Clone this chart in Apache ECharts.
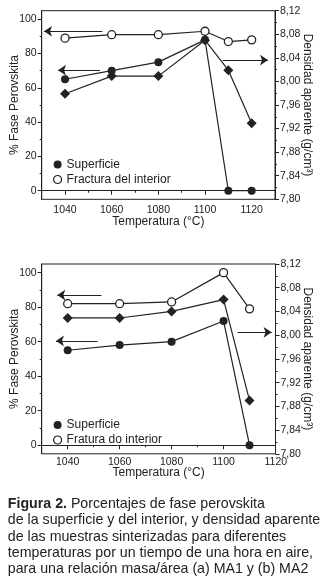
<!DOCTYPE html>
<html>
<head>
<meta charset="utf-8">
<script src="https://cdn.jsdelivr.net/npm/echarts@6/dist/echarts.min.js"></script>
<style>
  html, body { margin: 0; padding: 0; background: #fff; }
  #main { width: 328px; height: 584px; }
</style>
</head>
<body>
<div id="main"></div>
<script>
// (a) MA1
const tempA = [1040, 1060, 1080, 1100, 1110, 1120];
const superficieA = [65, 70, 75, 88, 0, 0];
const interiorA = [89, 91, 91, 93, 87, 88];
const densidadA = [7.979, 8.009, 8.009, 8.070, 8.019, 7.929];

// (b) MA2
const tempB = [1040, 1060, 1080, 1100, 1110];
const superficieB = [55, 58, 60, 72, 0];
const interiorB = [82, 82, 83, 100, 79];
const densidadB = [8.029, 8.029, 8.040, 8.060, 7.890];

// ejes
const pctTicks = [0, 20, 40, 60, 80, 100];
const pctMinor = [10, 30, 50, 70, 90];
const tempTicks = [1040, 1060, 1080, 1100, 1120];
const tempMinor = [1050, 1070, 1090, 1110];

// flechas [x1, y1, x2, y2] en unidades de los datos (eje %)
const arrowsA = [[1056, 93, 1031, 93], [1055, 70.3, 1037, 70.3], [1107.6, 76.2, 1127, 76.2]];
const arrowsB = [[1053, 87, 1036, 87], [1051.5, 60.4, 1035.5, 60.4], [1105.4, 65.4, 1118.5, 65.4]];

const caption = [
    '{b|Figura 2.} Porcentajes de fase perovskita',
    'de la superficie y del interior, y densidad aparente',
    'de las muestras sinterizadas para diferentes',
    'temperaturas por un tiempo de una hora en aire,',
    'para una relación masa/área (a) MA1 y (b) MA2'
];

const ink = '#222';
const font = 'Liberation Sans, Arial, sans-serif';

// cajas de los dos gráficos
const gridA = { left: 41.7, top: 10.7, width: 233.3, height: 188.6 };
const gridB = { left: 41.7, top: 264, width: 233.8, height: 189.8 };

const chart = echarts.init(document.getElementById('main'));

function pairs(xs, ys) {
    return xs.map((x, i) => [x, ys[i]]);
}

function tempAxis(grid, max, labels, labelMargin, nameGap) {
    return [{
        gridIndex: grid, type: 'value', position: 'bottom', min: 1030, max: max,
        name: 'Temperatura (°C)', nameLocation: 'middle', nameGap: nameGap, nameMoveOverlap: false,
        nameTextStyle: { color: ink, fontSize: 12, fontFamily: font },
        axisLine: { show: true, lineStyle: { color: ink, width: 1 } },
        axisTick: { show: true, customValues: tempTicks, length: 4, lineStyle: { color: ink } },
        axisLabel: {
            customValues: labels, margin: labelMargin, color: ink, fontSize: 10.5, fontFamily: font,
            formatter: v => String(Math.round(v))
        },
        splitLine: { show: false }
    }, {
        gridIndex: grid, type: 'value', position: 'bottom', min: 1030, max: max,
        axisLine: { show: false },
        axisTick: { show: true, customValues: tempMinor, length: 2, lineStyle: { color: ink } },
        axisLabel: { show: false },
        splitLine: { show: false }
    }];
}

function pctAxis(grid) {
    return [{
        gridIndex: grid, type: 'value', position: 'left', min: -5, max: 105,
        name: '% Fase Perovskita', nameLocation: 'middle', nameGap: 21, nameMoveOverlap: false,
        nameTextStyle: { color: ink, fontSize: 12, fontFamily: font },
        axisLine: { show: true, lineStyle: { color: ink, width: 1 } },
        axisTick: { show: true, customValues: pctTicks, length: 4, lineStyle: { color: ink } },
        axisLabel: { customValues: pctTicks, margin: 5, color: ink, fontSize: 10.5, fontFamily: font },
        splitLine: { show: false }
    }, {
        gridIndex: grid, type: 'value', position: 'left', min: -5, max: 105,
        axisLine: { show: false },
        axisTick: { show: true, customValues: pctMinor, length: 2, lineStyle: { color: ink } },
        axisLabel: { show: false },
        splitLine: { show: false }
    }];
}

function densAxis(grid) {
    return {
        gridIndex: grid, type: 'value', position: 'right', min: 7.80, max: 8.12, interval: 0.04,
        name: 'Densidad aparente (g/cm³)', nameLocation: 'middle', nameGap: 26, nameRotate: -90,
        nameMoveOverlap: false,
        nameTextStyle: { color: ink, fontSize: 12, fontFamily: font },
        axisLine: { show: true, lineStyle: { color: ink, width: 1 } },
        axisTick: { show: true, length: 4, lineStyle: { color: ink } },
        minorTick: { show: true, splitNumber: 2, length: 2, lineStyle: { color: ink } },
        axisLabel: {
            margin: 5, color: ink, fontSize: 10.5, fontFamily: font,
            showMinLabel: true, showMaxLabel: true,
            formatter: v => v.toFixed(2).replace('.', ',')
        },
        splitLine: { show: false }
    };
}

function arrowLines(list) {
    return {
        silent: true,
        symbol: ['none', 'arrow'],
        symbolSize: 8,
        label: { show: false },
        lineStyle: { color: ink, width: 1, type: 'solid' },
        data: list.map(a => [{ coord: [a[0], a[1]] }, { coord: [a[2], a[3]] }])
    };
}

const lineBase = { type: 'line', lineStyle: { color: ink, width: 1.2 } };

function chartSeries(xi, yPct, yDens, temps, sup, intr, dens, intName, arrows) {
    return [
        Object.assign({}, lineBase, {
            name: 'Superficie', xAxisIndex: xi, yAxisIndex: yPct,
            symbol: 'circle', symbolSize: 8,
            itemStyle: { color: ink },
            data: pairs(temps, sup),
            markLine: arrowLines(arrows)
        }),
        Object.assign({}, lineBase, {
            name: intName, xAxisIndex: xi, yAxisIndex: yPct,
            symbol: 'circle', symbolSize: 8,
            itemStyle: { color: '#fff', borderColor: ink, borderWidth: 1.3 },
            data: pairs(temps, intr)
        }),
        Object.assign({}, lineBase, {
            name: 'Densidad', xAxisIndex: xi, yAxisIndex: yDens,
            symbol: 'diamond', symbolSize: 10,
            itemStyle: { color: ink },
            data: pairs(temps, dens)
        })
    ];
}

function legendFor(names, top) {
    return {
        orient: 'vertical', left: 48, top: top,
        itemWidth: 8, itemHeight: 8, itemGap: 1,
        selectedMode: false,
        textStyle: { color: ink, fontSize: 12, fontFamily: font, lineHeight: 14 },
        data: [
            { name: names[0], icon: 'circle', itemStyle: { color: ink, borderWidth: 0 } },
            { name: names[1], icon: 'circle', itemStyle: { color: '#fff', borderColor: ink, borderWidth: 1.2 } }
        ]
    };
}

function gridBox(g) {
    return Object.assign({ show: true, borderColor: ink, borderWidth: 1, containLabel: false, outerBoundsMode: 'none' }, g);
}

const lastTemp = tempTicks[tempTicks.length - 1];

const option = {
    animation: false,
    graphic: {
        elements: [{
            type: 'text', left: 'center', top: 496, silent: true,
            style: {
                text: caption.join('\n'),
                align: 'center', verticalAlign: 'top',
                fill: ink, fontSize: 14.2, fontFamily: font, lineHeight: 16.3,
                rich: { b: { fontWeight: 'bold', fontSize: 14.2, fontFamily: font, fill: ink, lineHeight: 16.3 } }
            }
        }, {
            // la etiqueta final de (b) cae en la esquina y ECharts la oculta
            type: 'text', silent: true,
            left: gridB.left + gridB.width - 11, top: gridB.top + gridB.height + 3,
            style: {
                text: String(lastTemp),
                fill: ink, fontSize: 10.5, fontFamily: font
            }
        }]
    },
    grid: [gridBox(gridA), gridBox(gridB)],
    legend: [
        legendFor(['Superficie', 'Fractura del interior'], 152.5),
        legendFor(['Superficie', 'Fratura do interior'], 413)
    ],
    xAxis: [].concat(
        tempAxis(0, 1130, tempTicks, 5, 16),
        tempAxis(1, lastTemp, tempTicks.slice(0, -1), 3, 13)
    ),
    yAxis: [].concat(pctAxis(0), [densAxis(0)], pctAxis(1), [densAxis(1)]),
    series: [].concat(
        chartSeries(0, 0, 2, tempA, superficieA, interiorA, densidadA, 'Fractura del interior', arrowsA),
        chartSeries(2, 3, 5, tempB, superficieB, interiorB, densidadB, 'Fratura do interior', arrowsB)
    )
};

chart.setOption(option);

window.addEventListener('resize', function () {
    chart.resize();
});
</script>
</body>
</html>
